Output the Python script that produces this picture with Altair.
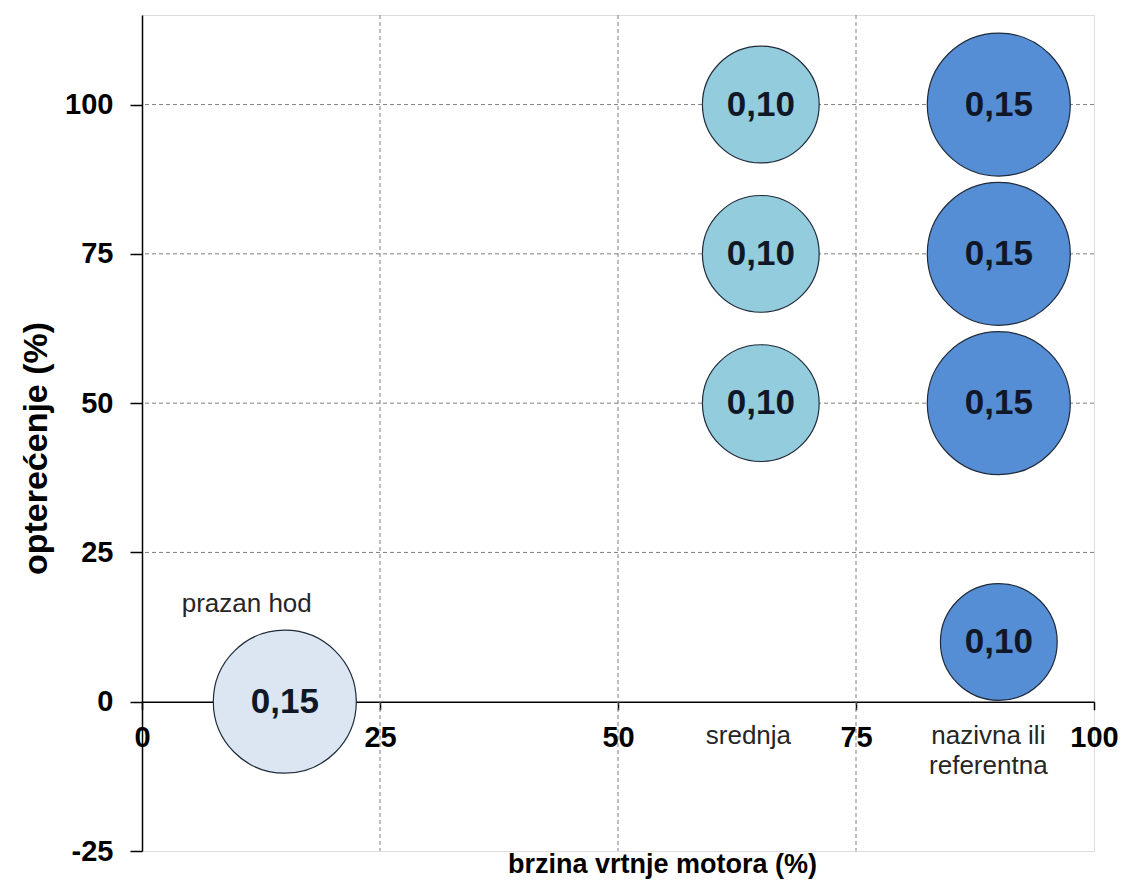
import altair as alt
import pandas as pd

# ---- data ----
speed = [15, 65, 65, 65, 90, 90, 90, 90]
load = [0, 100, 75, 50, 100, 75, 50, 10]
factor = [0.15, 0.10, 0.10, 0.10, 0.15, 0.15, 0.15, 0.10]
mode = ["prazan hod", "srednja", "srednja", "srednja",
        "nazivna", "nazivna", "nazivna", "nazivna"]

mode_names = ["prazan hod", "srednja", "nazivna"]
mode_colors = ["#dce6f2", "#93cddd", "#558ed5"]

cat_text = ["prazan hod", "srednja", "nazivna ili\nreferentna"]
cat_x = [11.0, 63.7, 88.9]
cat_y = [18.5, -3.6, -3.6]

x_ticks = [0, 25, 50, 75, 100]
y_ticks = [-25, 0, 25, 50, 75, 100]
x_grid = [25, 50, 75]
y_grid = [25, 50, 75, 100]
x_domain = [0, 100]
y_domain = [-25, 115]

FONT = "Liberation Sans"

bubbles = pd.DataFrame({
    "speed": speed,
    "load": load,
    "factor": factor,
    "mode": mode,
    "label": [f"{v:.2f}".replace(".", ",") for v in factor],
})
cats = pd.DataFrame({"text": cat_text, "speed": cat_x, "load": cat_y})
xg = pd.DataFrame({"speed": x_grid})
yg = pd.DataFrame({"load": y_grid})

W, H = 952, 836
y0_off = -(H * (0 - y_domain[0]) / (y_domain[1] - y_domain[0]))

x_scale = alt.Scale(domain=x_domain, nice=False, zero=False)
y_scale = alt.Scale(domain=y_domain, nice=False, zero=False)

x_axis = alt.Axis(
    values=x_ticks, title="brzina vrtnje motora (%)", offset=y0_off,
    grid=False, domainColor="black", domainWidth=1.5,
    tickColor="black", tickSize=8, tickWidth=1.5,
    labelFont=FONT, labelFontSize=29, labelFontWeight="bold",
    labelColor="black", labelPadding=14, labelFlush=False, labelOverlap=False,
    labelExpr="'' + datum.value",
    titleFont=FONT, titleFontSize=27, titleFontWeight="bold", titleColor="black",
    titleX=520, titleY=150, titleBaseline="top", titleAlign="center",
)
y_axis = alt.Axis(
    values=y_ticks, title="opterećenje  (%)",
    grid=False, domainColor="black", domainWidth=1.5,
    tickColor="black", tickSize=12, tickWidth=1.5,
    labelFont=FONT, labelFontSize=29, labelFontWeight="bold",
    labelColor="black", labelPadding=17, labelFlush=False, labelOverlap=False,
    labelExpr="'' + datum.value",
    titleFont=FONT, titleFontSize=34, titleFontWeight="bold", titleColor="black",
    titleX=-106, titleY=433, titleBaseline="middle", titleAlign="center",
)

X = lambda f: alt.X(f, type="quantitative", scale=x_scale, axis=x_axis)
Y = lambda f: alt.Y(f, type="quantitative", scale=y_scale, axis=y_axis)

grid_x = alt.Chart(xg).mark_rule(color="#7f7f7f", strokeDash=[4, 3], strokeWidth=1).encode(
    x=X("speed"))
grid_y = alt.Chart(yg).mark_rule(color="#7f7f7f", strokeDash=[4, 3], strokeWidth=1).encode(
    y=Y("load"))

points = alt.Chart(bubbles).mark_circle(opacity=1, stroke="#1f2a3a", strokeWidth=1.2).encode(
    x=X("speed"),
    y=Y("load"),
    size=alt.Size("factor:Q", scale=alt.Scale(domain=[0, 0.15], range=[0, 20449]), legend=None),
    color=alt.Color("mode:N", scale=alt.Scale(domain=mode_names, range=mode_colors), legend=None),
)

values = alt.Chart(bubbles).mark_text(
    font=FONT, fontSize=35, fontWeight="bold", color="#101828", baseline="middle", align="center"
).encode(x=X("speed"), y=Y("load"), text="label:N")

cat_labels = alt.Chart(cats).mark_text(
    font=FONT, fontSize=26, color="#262626", baseline="top", align="center",
    lineBreak="\n", lineHeight=30
).encode(x=X("speed"), y=Y("load"), text="text:N")

chart = alt.layer(grid_x, grid_y, points, values, cat_labels).properties(
    width=W, height=H,
    autosize=alt.AutoSizeParams(type="none"),
    padding={"left": 134, "top": 7, "right": 24, "bottom": 35},
).configure_view(stroke="#d9d9d9", strokeWidth=1.5).configure(background="white")

chart.save("out.html", embed_options={"renderer": "svg", "actions": False})
